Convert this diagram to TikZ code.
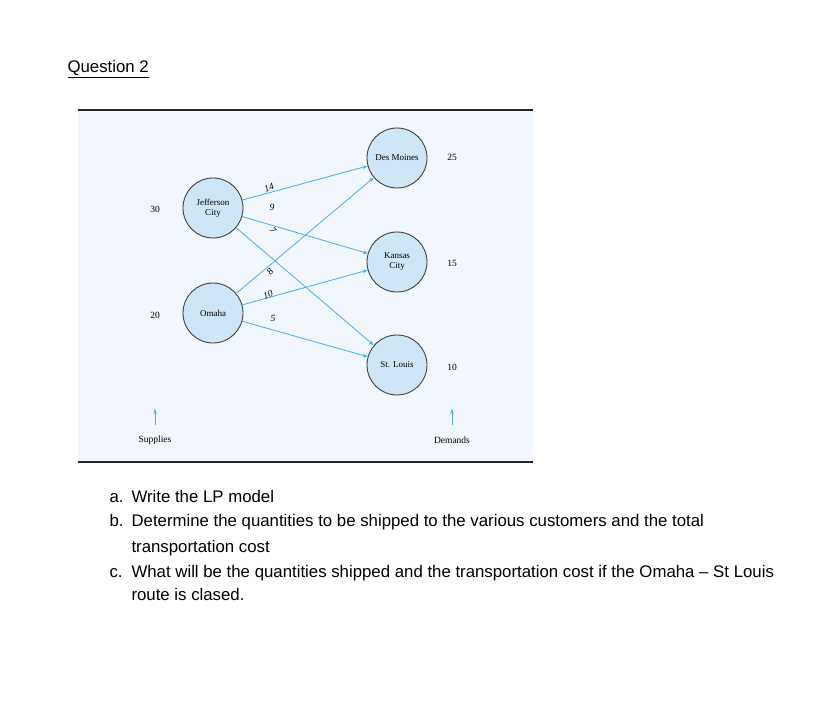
\documentclass[tikz,border=0pt]{standalone}
\usepackage{fontspec}
\setmainfont{Liberation Serif}
\newfontfamily\sansf{Liberation Sans}
\usetikzlibrary{arrows.meta}
\definecolor{panel}{HTML}{F1F7FC}
\definecolor{cityfill}{HTML}{CFE6F7}
\definecolor{arr}{HTML}{4DAEEA}
\begin{document}
\begin{tikzpicture}[x=1pt,y=-1pt,
  city/.style={circle,draw=black!75,line width=0.9pt,fill=cityfill,minimum size=60pt,inner sep=0pt,align=center,font=\fontsize{9}{10}\selectfont},
  lab/.style={font=\fontsize{9.5}{11}\selectfont},
  cost/.style={font=\itshape\fontsize{9.5}{11}\selectfont},
  route/.style={draw=arr,line width=0.8pt,-{Stealth[length=5pt]}},
  txt/.style={anchor=base west,font=\sansf\fontsize{16.8}{20}\selectfont}]
\useasboundingbox (0,0) rectangle (828,708);
\fill[panel] (78,110) rectangle (533,462);
\draw[line width=2.2pt,black!85] (78,110) -- (533,110);
\draw[line width=2.2pt,black!85] (78,462) -- (533,462);
\node[txt] (q) at (64,73) {\underline{Question 2}};
\node[city] (jc) at (213,208) {Jefferson\\City};
\node[city] (om) at (213,313) {Omaha};
\node[city] (dm) at (397,158) {Des Moines};
\node[city] (kc) at (397,262) {Kansas\\City};
\node[city] (sl) at (397,365) {St. Louis};
\node[lab] (s1) at (155,209) {30};
\node[lab] (s2) at (155,315) {20};
\node[lab] (d1) at (452,157) {25};
\node[lab] (d2) at (452,263) {15};
\node[lab] (d3) at (452,367) {10};
\node[lab] (sup) at (155,440) {Supplies};
\node[lab] (dem) at (452,440) {Demands};
\coordinate (a1) at (155,425); \coordinate (a1t) at (155,409);
\coordinate (a2) at (452,425); \coordinate (a2t) at (452,409);
\draw[route] (a1) -- (a1t);
\draw[route] (a2) -- (a2t);
\draw[route] (jc) -- (dm);
\draw[route] (jc) -- (kc);
\draw[route] (jc) -- (sl);
\draw[route] (om) -- (dm);
\draw[route] (om) -- (kc);
\draw[route] (om) -- (sl);
\node[cost,rotate=20] (c1) at (269,188) {14};
\node[cost] (c2) at (272,207) {9};
\node[cost,rotate=-50] (c3) at (273,230) {7};
\node[cost,rotate=50] (c4) at (270,272) {8};
\node[cost,rotate=20] (c5) at (268,295) {10};
\node[cost] (c6) at (273,318) {5};
\node[txt] (la) at (106,503) {a.};
\node[txt] (ta) at (128,503) {Write the LP model};
\node[txt] (lb) at (106,527) {b.};
\node[txt] (tb) at (128,527) {Determine the quantities to be shipped to the various customers and the total};
\node[txt] (tb2) at (128,552) {transportation cost};
\node[txt] (lc) at (106,577) {c.};
\node[txt] (tc) at (128,577) {What will be the quantities shipped and the transportation cost if the Omaha – St Louis};
\node[txt] (tc2) at (128,601) {route is clased.};
\end{tikzpicture}
\end{document}
